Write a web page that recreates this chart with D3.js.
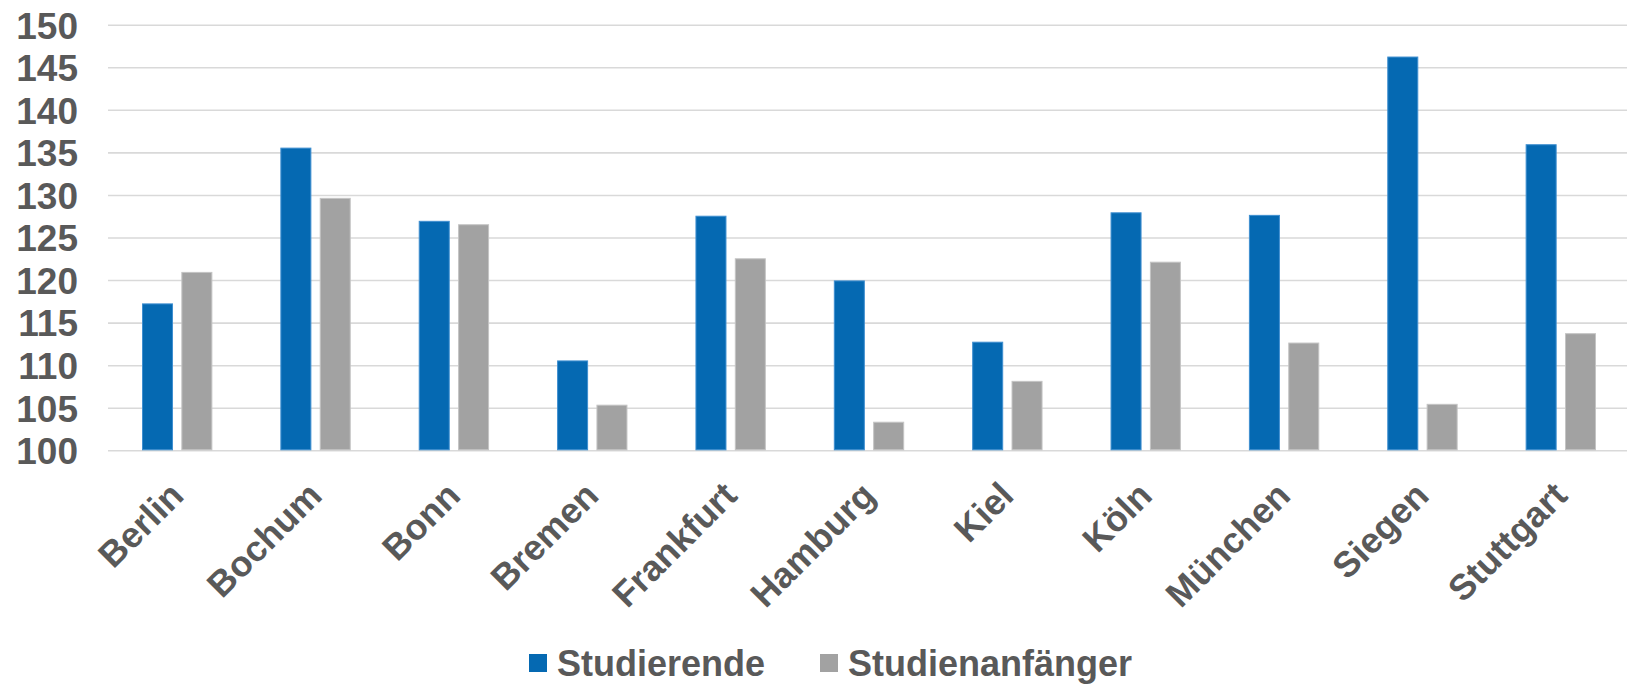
<!DOCTYPE html>
<html>
<head>
<meta charset="utf-8">
<script src="https://cdn.jsdelivr.net/npm/d3@7"></script>
<style>
  html, body { margin: 0; padding: 0; background: #fff; }
  svg { display: block; }
  text { font-family: "Liberation Sans", Arial, sans-serif; font-weight: bold; fill: #595959; }
</style>
</head>
<body>
<svg id="chart" width="1627" height="684"></svg>
<script>
const categories = ["Berlin","Bochum","Bonn","Bremen","Frankfurt","Hamburg","Kiel","Köln","München","Siegen","Stuttgart"];
const seriesNames = ["Studierende","Studienanfänger"];
const studierende = [117.2,135.5,126.9,110.5,127.5,119.9,112.7,127.9,127.6,146.2,135.9];
const studienanfaenger = [120.9,129.6,126.5,105.3,122.5,103.3,108.1,122.1,112.6,105.4,113.7];
const yTicks = [100,105,110,115,120,125,130,135,140,145,150];
const colors = ["#0569B2","#A2A2A2"];
const strokes = ["#3F8FD0","#C4C4C4"];

(function () {
const svg = d3.select("#chart");
const mLeft = 108, mRight = 1630, mTop = 24.7, mBottom = 450.3;

const x0 = d3.scaleBand().domain(categories).range([mLeft, mRight]).paddingInner(0).paddingOuter(0);
const x1 = d3.scaleBand().domain(seriesNames).range([34, x0.bandwidth() - 34]).paddingInner(0.212).paddingOuter(0);
const y = d3.scaleLinear().domain([100,150]).range([mBottom, mTop]);

// gridlines + y labels
const yAxis = d3.axisLeft(y).tickValues(yTicks).tickSize(-(1627 - mLeft)).tickPadding(30);
const gy = svg.append("g").attr("transform", `translate(${mLeft},0)`).call(yAxis);
gy.select(".domain").remove();
gy.selectAll(".tick line").attr("stroke", "#D9D9D9").attr("stroke-width", 1.6);
gy.selectAll(".tick text").attr("font-size", 37).attr("fill", "#595959")
  .attr("font-family", "Liberation Sans, Arial, sans-serif").attr("font-weight", "bold")
  .attr("dy", "0.36em");

// bars
const data = categories.map((c, i) => ({ c, vals: [studierende[i], studienanfaenger[i]] }));
const groups = svg.append("g").selectAll("g").data(data).join("g")
  .attr("transform", d => `translate(${x0(d.c)},0)`);
groups.selectAll("rect").data(d => d.vals.map((v, j) => ({ s: seriesNames[j], v, j })))
  .join("rect")
  .attr("x", d => x1(d.s) + 0.5)
  .attr("width", x1.bandwidth() - 1)
  .attr("y", d => y(d.v))
  .attr("height", d => y(100) - y(d.v) - 0.5)
  .attr("fill", d => colors[d.j])
  .attr("stroke", d => strokes[d.j])
  .attr("stroke-width", 1);

// x labels
const xAxis = d3.axisBottom(x0).tickSize(0).tickPadding(0);
const gx = svg.append("g").attr("transform", `translate(0,${mBottom})`).call(xAxis);
gx.select(".domain").remove();
gx.selectAll(".tick text")
  .attr("font-size", 36).attr("fill", "#595959")
  .attr("font-family", "Liberation Sans, Arial, sans-serif").attr("font-weight", "bold")
  .attr("text-anchor", "end")
  .attr("y", 0).attr("dy", "0.72em")
  .attr("transform", "translate(-10,29) rotate(-45)");

// legend
const legendItems = [{ name: seriesNames[0], x: 529 }, { name: seriesNames[1], x: 820 }];
const lg = svg.append("g").selectAll("g").data(legendItems).join("g")
  .attr("transform", d => `translate(${d.x},0)`);
lg.append("rect").attr("x", 0).attr("y", 654).attr("width", 18).attr("height", 18)
  .attr("fill", (d, i) => colors[i]);
lg.append("text").attr("x", 28).attr("y", 676).attr("font-size", 36).text(d => d.name);
})();
</script>
</body>
</html>
